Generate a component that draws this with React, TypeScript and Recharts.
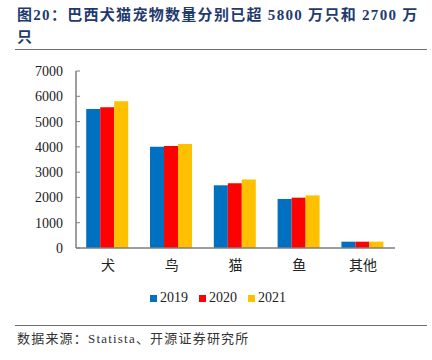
import { BarChart, Bar, XAxis, YAxis } from 'recharts';

const categories = ['犬', '鸟', '猫', '鱼', '其他'];
const y2019 = [5500, 4000, 2480, 1940, 250];
const y2020 = [5570, 4030, 2560, 1990, 250];
const y2021 = [5800, 4110, 2710, 2080, 250];
const yTicks = [0, 1000, 2000, 3000, 4000, 5000, 6000, 7000];

const seriesDefs = [
  { key: '2019', color: '#0070C0' },
  { key: '2020', color: '#FF0000' },
  { key: '2021', color: '#FFC000' },
];

const chartData = categories.map((name, i) => ({
  name,
  '2019': y2019[i],
  '2020': y2020[i],
  '2021': y2021[i],
}));

const serif = '"Liberation Serif", "Noto Sans CJK SC", serif';
const axisColor = '#7f7f7f';

export default function App() {
  return (
    <div
      style={{
        position: 'absolute',
        left: 0,
        top: 0,
        width: 432,
        height: 360,
        background: '#fff',
        overflow: 'hidden',
        fontFamily: serif,
      }}
    >
      <div
        style={{
          position: 'absolute',
          left: 17,
          top: 4,
          width: 412,
          fontSize: 15,
          lineHeight: '22px',
          fontWeight: 700,
          color: '#1f3a6e',
          letterSpacing: 1.3,
          whiteSpace: 'nowrap',
        }}
      >
        图20：巴西犬猫宠物数量分别已超 5800 万只和 2700 万
        <br />
        只
      </div>
      <div style={{ position: 'absolute', left: 15, top: 49, width: 412, height: 0, borderTop: '1.5px solid #6f6f6f' }} />

      <BarChart
        width={432}
        height={360}
        data={chartData}
        margin={{ top: 71, right: 37, left: 0, bottom: 82 }}
        barCategoryGap="16%"
        barGap={0}
        style={{ position: 'absolute', left: 0, top: 0 }}
      >
        <XAxis
          dataKey="name"
          height={30}
          axisLine={{ stroke: axisColor, strokeWidth: 1.5 }}
          tickLine={false}
          tickSize={6}
          tickMargin={6}
          interval={0}
          tick={{ fill: '#222', fontSize: 14, fontFamily: '"Noto Sans CJK SC", sans-serif' }}
        />
        <YAxis
          width={76}
          domain={[0, 7000]}
          ticks={yTicks}
          interval={0}
          axisLine={{ stroke: axisColor, strokeWidth: 1.5 }}
          tickLine={{ stroke: axisColor }}
          tickSize={-4}
          tickMargin={17}
          tick={{ fill: '#222', fontSize: 14, fontFamily: serif }}
        />
        {seriesDefs.map((s) => (
          <Bar key={s.key} dataKey={s.key} fill={s.color} isAnimationActive={false} />
        ))}
      </BarChart>

      <div
        style={{
          position: 'absolute',
          left: 150,
          top: 290,
          display: 'flex',
          alignItems: 'center',
          fontSize: 14,
          color: '#222',
        }}
      >
        {seriesDefs.map((s) => (
          <div key={s.key} style={{ display: 'flex', alignItems: 'center', marginRight: 11 }}>
            <span style={{ display: 'inline-block', width: 7, height: 7, background: s.color, marginRight: 3 }} />
            <span>{s.key}</span>
          </div>
        ))}
      </div>

      <div style={{ position: 'absolute', left: 15, top: 325, width: 412, height: 0, borderTop: '1.5px solid #6f6f6f' }} />
      <div
        style={{
          position: 'absolute',
          left: 17,
          top: 330,
          fontSize: 13,
          lineHeight: '18px',
          color: '#333',
          letterSpacing: 1.2,
          whiteSpace: 'nowrap',
        }}
      >
        数据来源：Statista、开源证券研究所
      </div>
    </div>
  );
}
